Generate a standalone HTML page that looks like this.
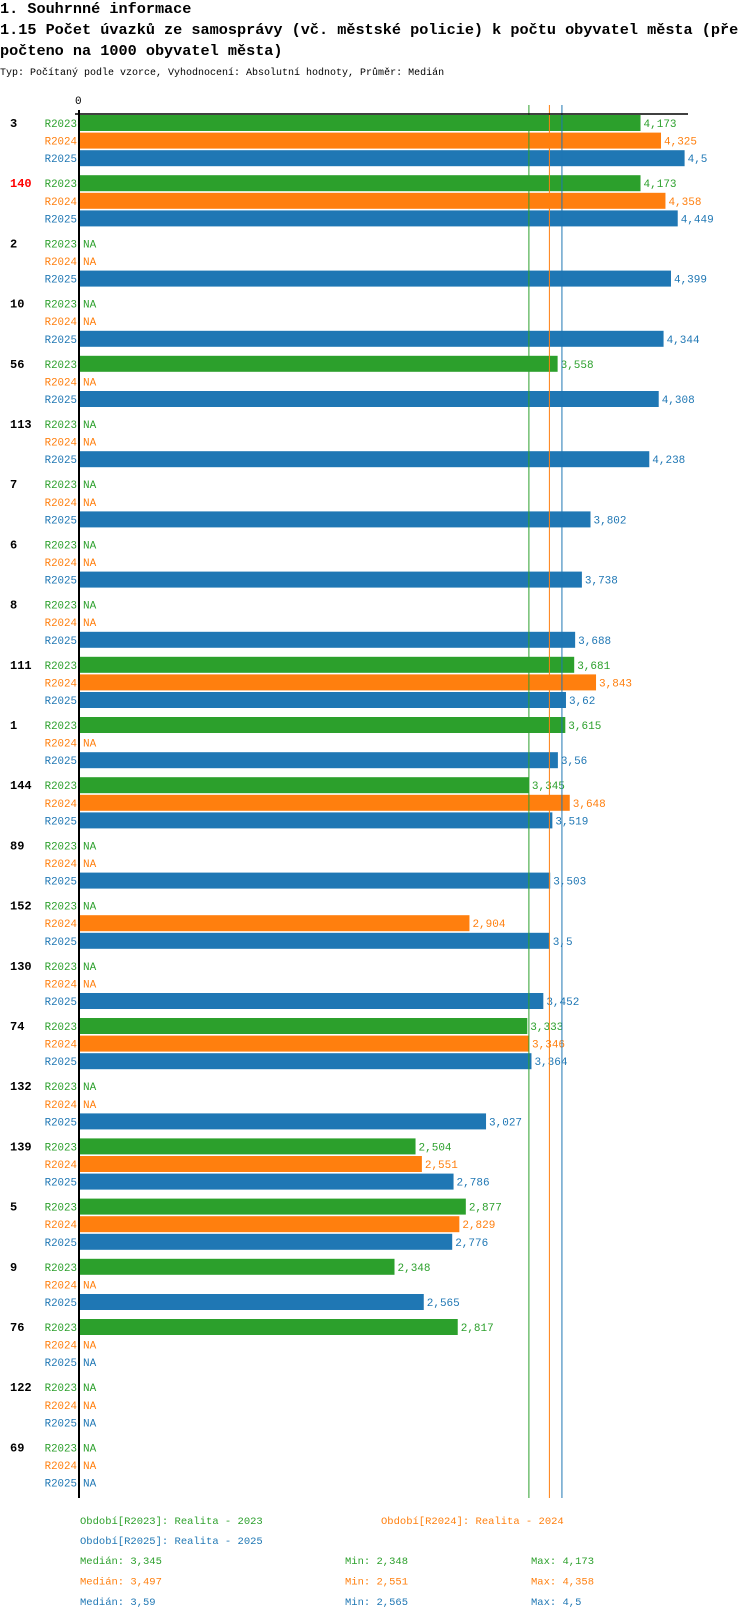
<!DOCTYPE html>
<html><head><meta charset="utf-8"><style>
body{margin:0;background:#fff;}
svg text{font-family:"Liberation Mono","DejaVu Sans Mono",monospace;}
</style></head><body>
<svg id="chart" width="750" height="1614" xmlns="http://www.w3.org/2000/svg">
<text x="0" y="13" font-size="15.2" font-weight="bold">1. Souhrnné informace</text>
<text x="0" y="34" font-size="15.2" font-weight="bold">1.15 Počet úvazků ze samosprávy (vč. městské policie) k počtu obyvatel města (pře</text>
<text x="0" y="55" font-size="15.2" font-weight="bold">počteno na 1000 obyvatel města)</text>
<text x="0" y="75" font-size="10">Typ: Počítaný podle vzorce, Vyhodnocení: Absolutní hodnoty, Průměr: Medián</text>
<g id="plot"></g>
</svg>
<script>
const groups=["3","140","2","10","56","113","7","6","8","111","1","144","89","152","130","74","132","139","5","9","76","122","69"];
const r2023=[4.173,4.173,null,null,3.558,null,null,null,null,3.681,3.615,3.345,null,null,null,3.333,null,2.504,2.877,2.348,2.817,null,null];
const r2024=[4.325,4.358,null,null,null,null,null,null,null,3.843,null,3.648,null,2.904,null,3.346,null,2.551,2.829,null,null,null,null];
const r2025=[4.5,4.449,4.399,4.344,4.308,4.238,3.802,3.738,3.688,3.62,3.56,3.519,3.503,3.5,3.452,3.364,3.027,2.786,2.776,2.565,null,null,null];
const seriesNames=["R2023","R2024","R2025"];
const medians=[3.345,3.497,3.59];
const mins=[2.348,2.551,2.565];
const maxs=[4.173,4.358,4.5];
const colors=["#2ca02c","#ff7f0e","#1f77b4"];
const NS="http://www.w3.org/2000/svg";
const g=document.getElementById('plot');
const x0=78,scale=134.8;
const X=v=>x0+v*scale;
const gy=i=>115+i*60.2;
const fmt=v=>String(v).replace('.',',');
function mk(tag,attrs,txt){const e=document.createElementNS(NS,tag);for(const k in attrs)e.setAttribute(k,attrs[k]);if(txt!=null)e.textContent=txt;g.appendChild(e);return e;}
const all=[r2023,r2024,r2025];
const axisBottom=1498;
let t=mk('text',{x:X(0)-3,y:104,'font-size':11},'0');


groups.forEach((name,i)=>{
  let gl=mk('text',{x:10,y:gy(i)+12,'font-size':12,'font-weight':'bold',fill:name==="140"?"#ff0000":"#000"},name);
  
  
  all.forEach((arr,s)=>{
    const top=gy(i)+s*17.6;const v=arr[i];
    let lab=mk('text',{x:77,y:top+12,'font-size':10.8,'text-anchor':'end',fill:colors[s]},seriesNames[s]);
    
    
    if(v==null){
      let na=mk('text',{x:83,y:top+12,'font-size':11,fill:colors[s]},'NA');
      
      
    }else{
      let b=mk('rect',{x:X(0),y:top,width:X(v)-X(0),height:16,fill:colors[s]});
      
      
      let vl=mk('text',{x:X(v)+3,y:top+12,'font-size':11,fill:colors[s]},fmt(v));
      
      
    }
  });
});
medians.forEach((m,s)=>{
  let l=mk('line',{x1:X(m),x2:X(m),y1:105,y2:axisBottom,stroke:colors[s],'stroke-width':1});
  
  
});
let ax=mk('line',{x1:75,x2:688,y1:114,y2:114,stroke:'#000','stroke-width':1.5});


let ay=mk('line',{x1:79,x2:79,y1:110,y2:axisBottom,stroke:'#000','stroke-width':2});


const legendText=["Období[R2023]: Realita - 2023","Období[R2024]: Realita - 2024","Období[R2025]: Realita - 2025"];
const legPos=[[80,1524],[381,1524],[80,1544]];
legendText.forEach((tx,s)=>{
  let e=mk('text',{x:legPos[s][0],y:legPos[s][1],'font-size':10.5,fill:colors[s]},tx);
  
  
});
medians.forEach((m,s)=>{
  const y=1564+s*20.5;
  let a=mk('text',{x:80,y:y,'font-size':10.5,fill:colors[s]},'Medián: '+fmt(m));
  
  
  let b=mk('text',{x:345,y:y,'font-size':10.5,fill:colors[s]},'Min: '+fmt(mins[s]));
  
  
  let c=mk('text',{x:531,y:y,'font-size':10.5,fill:colors[s]},'Max: '+fmt(maxs[s]));
  
  
});
</script>
</body></html>
